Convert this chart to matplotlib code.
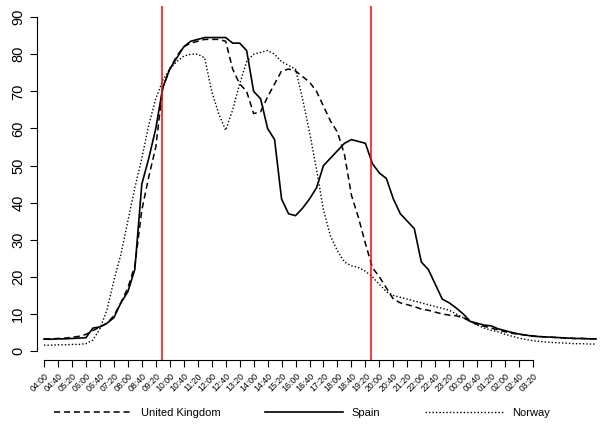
import matplotlib
matplotlib.use("Agg")
import matplotlib.pyplot as plt

plt.rcParams["font.family"] = ["Liberation Sans", "DejaVu Sans"]

# 20-minute steps starting at 04:00
tick_labels = ["04:00", "04:40", "05:20", "06:00", "06:40", "07:20", "08:00", "08:40", "09:20",
               "10:00", "10:40", "11:20", "12:00", "12:40", "13:20", "14:00", "14:40", "15:20",
               "16:00", "16:40", "17:20", "18:00", "18:40", "19:20", "20:00", "20:40", "21:20",
               "22:00", "22:40", "23:20", "00:00", "00:40", "01:20", "02:00", "02:40", "03:20"]

uk = [3.3, 3.3, 3.4, 3.5, 3.7, 4, 4.5, 5.5, 6.5, 7.5, 9.5, 13, 17, 23, 38, 47, 55, 71, 76, 79.5,
      82, 83, 83.5, 84, 84, 84, 83.5, 76, 72, 70, 64, 64.5, 68.5, 72, 75.5, 76, 75.5, 74, 72.5, 70,
      66, 62, 59, 53, 42, 36, 29, 22.5, 20, 17, 14, 13, 12.5, 12, 11.3, 11, 10.5, 10, 9.7, 9.5,
      9, 8, 7.2, 6.7, 6.2, 5.7, 5.2, 4.8, 4.5, 4.3, 4.1, 3.9, 3.8, 3.7, 3.6, 3.5, 3.4, 3.4, 3.3, 3.3]
spain = [3.2, 3.2, 3.3, 3.3, 3.4, 3.5, 3.6, 6.2, 6.5, 7.5, 9, 13, 16, 22, 45, 52, 60, 71, 76, 79,
         82, 83.5, 84, 84.5, 84.5, 84.5, 84.5, 83, 83, 81, 70, 68, 60, 57, 41, 37, 36.5, 38.5, 41, 44,
         50, 52, 54, 56, 57, 56.5, 56, 50.5, 48, 46.5, 41, 37, 35, 33, 24, 22, 18, 14, 13, 11.6,
         10, 8, 7.5, 7, 6.8, 6, 5.5, 5, 4.6, 4.3, 4, 3.9, 3.8, 3.7, 3.6, 3.5, 3.4, 3.4, 3.3, 3.3]
norway = [1.6, 1.6, 1.7, 1.7, 1.8, 1.8, 2.0, 3, 6, 11, 19, 26, 35, 44, 52, 61, 68, 73, 76, 78,
          79.5, 80, 80, 79, 70, 64, 59.5, 65, 72, 78, 80, 80.5, 81, 80, 78, 77, 76, 68, 59, 49,
          38, 31, 27, 24, 23, 22.5, 21.5, 20, 18, 16, 15, 14.5, 14, 13.5, 13, 12.5, 12, 11.5, 11, 10,
          9, 8, 7, 6.2, 5.6, 5.2, 4.5, 4, 3.5, 3.1, 2.8, 2.6, 2.4, 2.3, 2.2, 2.1, 2.0, 2.0, 1.9, 1.9]
red_lines = [16.86, 46.86]

x = list(range(len(uk)))
tick_pos = [2 * j for j in range(len(tick_labels))]

fig = plt.figure(figsize=(6.04, 4.28), dpi=100)
ax = fig.add_axes([37 / 604, 68 / 428, 566 / 604, 354 / 428])

ax.plot(x, uk, color="black", lw=1.1, ls=(0, (4, 2.5)), label="United Kingdom")
ax.plot(x, spain, color="black", lw=1.2, ls="-", label="Spain")
ax.plot(x, norway, color="black", lw=1.0, ls=(0, (1, 1.5)), label="Norway")
for r in red_lines:
    ax.axvline(r, color="red", lw=1.1)

ax.set_xlim(-1, 80)
ax.set_ylim(-2.4, 93)
for s in ["top", "right"]:
    ax.spines[s].set_visible(False)
ax.spines["left"].set_bounds(0, 90)
ax.spines["bottom"].set_bounds(0, tick_pos[-1])
ax.set_yticks(range(0, 91, 10))
ax.set_yticklabels([str(v) for v in range(0, 91, 10)], rotation=90, va="center", fontsize=10.5)
ax.set_xticks(tick_pos)
ax.set_xticklabels(tick_labels, rotation=45, ha="right", rotation_mode="anchor", fontsize=6.3)
ax.tick_params(axis="both", length=5, width=0.8)

fig.legend(loc="lower center", bbox_to_anchor=(0.5, 0.0), ncol=3, frameon=False, fontsize=8,
           handlelength=7, columnspacing=4)
fig.savefig("out.png", dpi=100)
